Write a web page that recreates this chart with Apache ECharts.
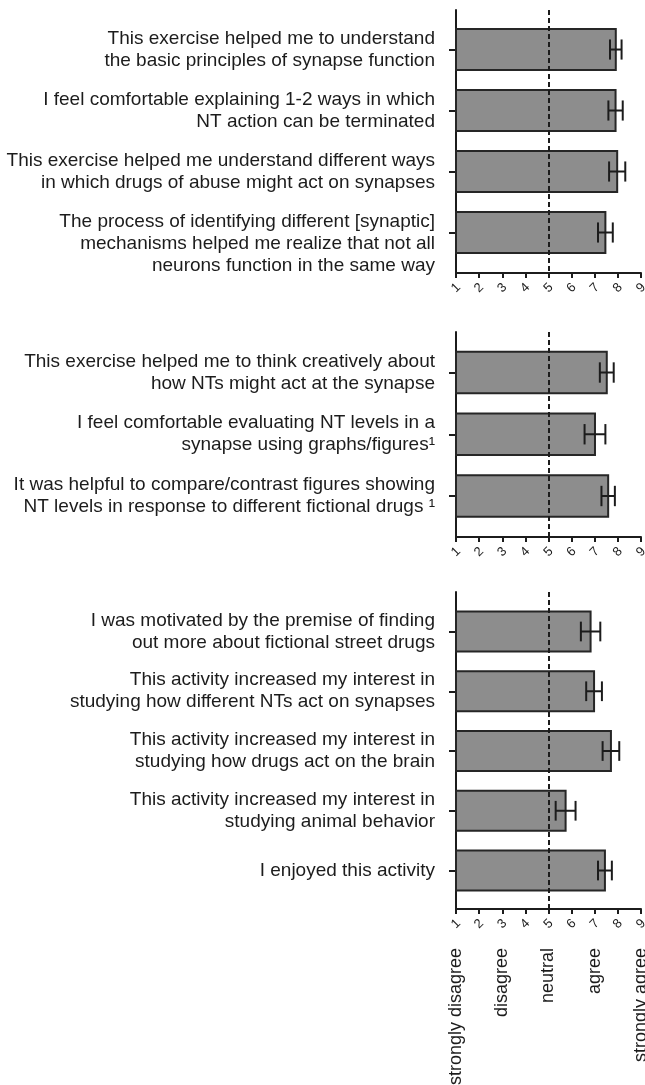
<!DOCTYPE html>
<html>
<head>
<meta charset="utf-8">
<script src="https://cdn.jsdelivr.net/npm/echarts@6/dist/echarts.min.js"></script>
<style>
  html, body { margin: 0; padding: 0; background: #fff; }
  #main { width: 645px; height: 1085px; }
</style>
</head>
<body>
<div id="main"></div>
<script>
// statements, one list per panel (top to bottom)
var labels1 = [
  'This exercise helped me to understand\nthe basic principles of synapse function',
  'I feel comfortable explaining 1-2 ways in which\nNT action can be terminated',
  'This exercise helped me understand different ways\nin which drugs of abuse might act on synapses',
  'The process of identifying different [synaptic]\nmechanisms helped me realize that not all\nneurons function in the same way'
];
var means1 = [7.91, 7.90, 7.97, 7.46];
var errs1 = [0.25, 0.31, 0.35, 0.32];

var labels2 = [
  'This exercise helped me to think creatively about\nhow NTs might act at the synapse',
  'I feel comfortable evaluating NT levels in a\nsynapse using graphs/figures\u00b9',
  'It was helpful to compare/contrast figures showing\nNT levels in response to different fictional drugs \u00b9'
];
var means2 = [7.52, 7.01, 7.58];
var errs2 = [0.30, 0.45, 0.29];

var labels3 = [
  'I was motivated by the premise of finding\nout more about fictional street drugs',
  'This activity increased my interest in\nstudying how different NTs act on synapses',
  'This activity increased my interest in\nstudying how drugs act on the brain',
  'This activity increased my interest in\nstudying animal behavior',
  'I enjoyed this activity'
];
var means3 = [6.82, 6.97, 7.70, 5.74, 7.44];
var errs3 = [0.42, 0.34, 0.36, 0.43, 0.30];

// rating scale
var scaleTicks = [1, 2, 3, 4, 5, 6, 7, 8, 9];
var scaleWords = {1: 'strongly disagree', 3: 'disagree', 5: 'neutral', 7: 'agree', 9: 'strongly agree'};
var neutral = 5;

var ink = '#1c1c1c';
var font = 'Liberation Sans';

function lineCount(t) {
  return t.split('\n').length;
}

// y axis of one panel; labels are split over two axes so the
// three-line statement can sit half a line lower without being hidden
function makeY(grid, list, min, max, tall) {
  var vals = [];
  list.forEach(function (t, i) {
    if ((lineCount(t) > 2) === tall) vals.push(i);
  });
  return {
    gridIndex: grid,
    type: 'value',
    position: 'left',
    inverse: true,
    min: min,
    max: max,
    splitLine: { show: false },
    axisLine: { show: !tall, onZero: false, lineStyle: { color: ink, width: 2 } },
    axisTick: { show: !tall, length: 7, lineStyle: { color: ink, width: 2 }, customValues: list.map(function (t, i) { return i; }) },
    axisLabel: {
      show: vals.length > 0, customValues: vals.length ? vals : [0],
      formatter: function (v) {
        var t = list[Math.round(v)];
        return t == null ? '' : (tall ? '\n' + t : t);
      },
      margin: 21, color: ink, fontFamily: font, fontSize: 19, lineHeight: 22
    }
  };
}

function makeX(grid) {
  return {
    gridIndex: grid,
    type: 'value',
    min: 1,
    max: 9,
    interval: 1,
    splitLine: { show: false },
    axisLine: { onZero: false, lineStyle: { color: ink, width: 2 } },
    axisTick: { length: 5, lineStyle: { color: ink, width: 2 } },
    axisLabel: {
      rotate: 45, align: 'center', verticalAlign: 'middle', margin: 15,
      color: ink, fontFamily: font, fontSize: 13,
      formatter: function (v) { return scaleTicks.indexOf(v) >= 0 ? String(v) : ''; }
    }
  };
}

function renderBar(params, api) {
  var i = api.value(0);
  var p0 = api.coord([1, i]);
  var p1 = api.coord([api.value(1), i]);
  var h = api.size([0, 0.67])[1];
  return {
    type: 'rect',
    shape: { x: p0[0], y: p1[1] - h / 2, width: p1[0] - p0[0], height: h },
    style: { fill: '#8d8d8d', stroke: '#262626', lineWidth: 2 }
  };
}

// error bar: whisker plus two caps
function renderErr(params, api) {
  var i = api.value(0);
  var m = api.value(1);
  var e = api.value(2);
  var cap = api.size([0, 0.33])[1];
  var lo = api.coord([m - e, i]);
  var hi = api.coord([m + e, i]);
  var y = lo[1];
  var w = 2;
  var st = { fill: ink };
  return {
    type: 'group',
    children: [
      { type: 'rect', shape: { x: lo[0], y: y - w / 2, width: hi[0] - lo[0], height: w }, style: st },
      { type: 'rect', shape: { x: lo[0] - w / 2, y: y - cap / 2, width: w, height: cap }, style: st },
      { type: 'rect', shape: { x: hi[0] - w / 2, y: y - cap / 2, width: w, height: cap }, style: st }
    ]
  };
}

function makeSeries(k, means, errs, render, z) {
  return {
    type: 'custom',
    xAxisIndex: k,
    yAxisIndex: 2 * k,
    renderItem: render,
    encode: { x: 1, y: 0 },
    data: means.map(function (m, i) { return [i, m, errs[i]]; }),
    z: z
  };
}

function makeNeutral(k) {
  return {
    type: 'line',
    xAxisIndex: k,
    yAxisIndex: 2 * k,
    data: [],
    markLine: {
      silent: true,
      symbol: 'none',
      label: { show: false },
      lineStyle: { color: ink, width: 2, type: [5, 3] },
      data: [{ xAxis: neutral }]
    },
    z: 4
  };
}

var option = {
  backgroundColor: '#fff',
  animation: false,
  grid: [
    { left: 456, right: 4, top: 10, height: 263, outerBoundsMode: 'none' },
    { left: 456, right: 4, top: 332, height: 205, outerBoundsMode: 'none' },
    { left: 456, right: 4, top: 592, height: 317, outerBoundsMode: 'none' }
  ],
  xAxis: [
    makeX(0),
    makeX(1),
    makeX(2),
    {
      gridIndex: 2,
      type: 'value',
      position: 'bottom',
      min: 1,
      max: 9,
      splitLine: { show: false },
      axisLine: { show: false, onZero: false },
      axisTick: { show: false },
      axisLabel: {
        rotate: 90, margin: 39, color: ink, fontFamily: font, fontSize: 18,
        customValues: Object.keys(scaleWords).map(Number),
        formatter: function (v) { return scaleWords[v] || ''; }
      }
    }
  ],
  yAxis: [
    makeY(0, labels1, -0.648, 3.664, false),
    makeY(0, labels1, -0.648, 3.664, true),
    makeY(1, labels2, -0.656, 2.664, false),
    makeY(1, labels2, -0.656, 2.664, true),
    makeY(2, labels3, -0.661, 4.644, false),
    makeY(2, labels3, -0.661, 4.644, true)
  ],
  series: [
    makeSeries(0, means1, errs1, renderBar, 2),
    makeSeries(1, means2, errs2, renderBar, 2),
    makeSeries(2, means3, errs3, renderBar, 2),
    makeSeries(0, means1, errs1, renderErr, 3),
    makeSeries(1, means2, errs2, renderErr, 3),
    makeSeries(2, means3, errs3, renderErr, 3),
    makeNeutral(0),
    makeNeutral(1),
    makeNeutral(2)
  ]
};

var chart = echarts.init(document.getElementById('main'), null, { renderer: 'canvas' });
chart.setOption(option);
</script>
</body>
</html>
